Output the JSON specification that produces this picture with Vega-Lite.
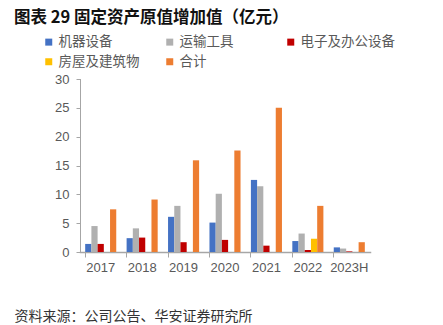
{
  "$schema": "https://vega.github.io/schema/vega-lite/v6.json",
  "width": 290,
  "height": 173,
  "autosize": {"type": "none"},
  "padding": {"left": 80, "top": 79, "right": 73, "bottom": 73},
  "background": "white",
  "title": {
    "text": "图表 29  固定资产原值增加值（亿元）",
    "anchor": "start",
    "frame": "group",
    "dx": -66,
    "offset": 9,
    "font": "Noto Sans CJK SC",
    "fontSize": 16.5,
    "fontWeight": "bold",
    "color": "#111111"
  },
  "data": {
    "values": [
      {"year": "2017", "series": "机器设备", "value": 1.4},
      {"year": "2017", "series": "运输工具", "value": 4.5},
      {"year": "2017", "series": "电子及办公设备", "value": 1.4},
      {"year": "2017", "series": "房屋及建筑物", "value": 0},
      {"year": "2017", "series": "合计", "value": 7.4},
      {"year": "2018", "series": "机器设备", "value": 2.4},
      {"year": "2018", "series": "运输工具", "value": 4.1},
      {"year": "2018", "series": "电子及办公设备", "value": 2.5},
      {"year": "2018", "series": "房屋及建筑物", "value": 0},
      {"year": "2018", "series": "合计", "value": 9.1},
      {"year": "2019", "series": "机器设备", "value": 6.1},
      {"year": "2019", "series": "运输工具", "value": 8.0},
      {"year": "2019", "series": "电子及办公设备", "value": 1.7},
      {"year": "2019", "series": "房屋及建筑物", "value": 0},
      {"year": "2019", "series": "合计", "value": 15.9},
      {"year": "2020", "series": "机器设备", "value": 5.1},
      {"year": "2020", "series": "运输工具", "value": 10.1},
      {"year": "2020", "series": "电子及办公设备", "value": 2.1},
      {"year": "2020", "series": "房屋及建筑物", "value": 0},
      {"year": "2020", "series": "合计", "value": 17.6},
      {"year": "2021", "series": "机器设备", "value": 12.5},
      {"year": "2021", "series": "运输工具", "value": 11.4},
      {"year": "2021", "series": "电子及办公设备", "value": 1.1},
      {"year": "2021", "series": "房屋及建筑物", "value": 0},
      {"year": "2021", "series": "合计", "value": 25.0},
      {"year": "2022", "series": "机器设备", "value": 1.9},
      {"year": "2022", "series": "运输工具", "value": 3.2},
      {"year": "2022", "series": "电子及办公设备", "value": 0.35},
      {"year": "2022", "series": "房屋及建筑物", "value": 2.3},
      {"year": "2022", "series": "合计", "value": 8.0},
      {"year": "2023H", "series": "机器设备", "value": 0.8},
      {"year": "2023H", "series": "运输工具", "value": 0.6},
      {"year": "2023H", "series": "电子及办公设备", "value": 0.1},
      {"year": "2023H", "series": "房屋及建筑物", "value": 0},
      {"year": "2023H", "series": "合计", "value": 1.7}
    ]
  },
  "mark": {"type": "bar"},
  "encoding": {
    "x": {
      "field": "year",
      "type": "nominal",
      "sort": null,
      "scale": {"paddingInner": 0.25, "paddingOuter": 0.125},
      "axis": {
        "title": "资料来源：公司公告、华安证券研究所",
        "titleX": -66,
        "titleY": 64,
        "titleAnchor": "start",
        "titleAlign": "left",
        "titleBaseline": "middle",
        "titleFont": "Noto Sans CJK SC",
        "titleFontSize": 14,
        "titleFontWeight": "normal",
        "titleColor": "#333333",
        "bandPosition": 0,
        "labelAngle": 0,
        "labelFont": "Liberation Sans",
        "labelFontSize": 13,
        "labelColor": "#595959",
        "labelPadding": 4,
        "tickSize": 5,
        "tickColor": "#A6A6A6",
        "domainColor": "#A6A6A6",
        "domainWidth": 1.5
      }
    },
    "xOffset": {
      "field": "series",
      "type": "nominal",
      "sort": ["机器设备", "运输工具", "电子及办公设备", "房屋及建筑物", "合计"],
      "scale": {"paddingInner": 0, "paddingOuter": 0}
    },
    "y": {
      "field": "value",
      "type": "quantitative",
      "scale": {"domain": [0, 30]},
      "axis": {
        "title": null,
        "values": [0, 5, 10, 15, 20, 25, 30],
        "grid": false,
        "labelFont": "Liberation Sans",
        "labelFontSize": 13,
        "labelColor": "#595959",
        "labelPadding": 7,
        "tickSize": 4,
        "tickColor": "#A6A6A6",
        "domainColor": "#A6A6A6",
        "domainWidth": 1
      }
    },
    "color": {
      "field": "series",
      "type": "nominal",
      "sort": ["机器设备", "运输工具", "电子及办公设备", "房屋及建筑物", "合计"],
      "scale": {
        "domain": ["机器设备", "运输工具", "电子及办公设备", "房屋及建筑物", "合计"],
        "range": ["#4472C4", "#B0B0B0", "#C00000", "#FFC000", "#ED7D31"]
      },
      "legend": {
        "title": null,
        "orient": "none",
        "legendX": -38,
        "legendY": -44,
        "direction": "horizontal",
        "columns": 3,
        "gridAlign": "all",
        "columnPadding": 10,
        "rowPadding": 5,
        "symbolType": "square",
        "symbolSize": 49,
        "symbolStrokeWidth": 0,
        "labelOffset": 3,
        "labelFont": "Noto Sans CJK SC",
        "labelFontSize": 13.5,
        "labelColor": "#595959",
        "labelLimit": 200
      }
    }
  },
  "config": {
    "view": {"stroke": null},
    "axis": {"domainCap": "square"}
  }
}
